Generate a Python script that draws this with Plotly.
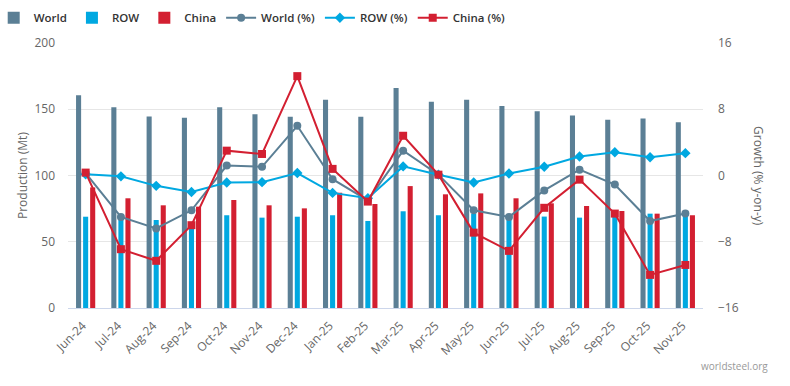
import plotly.graph_objects as go

months = ["Jun-24", "Jul-24", "Aug-24", "Sep-24", "Oct-24", "Nov-24", "Dec-24",
          "Jan-25", "Feb-25", "Mar-25", "Apr-25", "May-25", "Jun-25", "Jul-25",
          "Aug-25", "Sep-25", "Oct-25", "Nov-25"]

world_mt = [160.5, 151.5, 144.5, 143.5, 151.5, 146.2, 144.4, 157.2, 144.4, 166.0,
            155.7, 157.2, 152.5, 148.4, 145.2, 142.1, 143.0, 140.1]
row_mt = [68.9, 68.5, 66.4, 61.0, 70.0, 68.2, 68.9, 70.0, 65.7, 73.0,
          70.0, 71.0, 68.5, 69.0, 68.2, 70.0, 71.2, 70.2]
china_mt = [91.0, 82.8, 77.5, 76.5, 81.5, 77.5, 75.2, 87.0, 78.5, 92.0,
            85.8, 86.5, 82.8, 79.0, 77.0, 73.2, 71.2, 70.0]

world_pct = [0.3, -5.0, -6.4, -4.2, 1.2, 1.05, 6.0, -0.45, -3.0, 3.0,
             0.1, -4.2, -5.0, -1.8, 0.7, -1.1, -5.5, -4.6]
row_pct = [0.15, -0.1, -1.25, -2.0, -0.85, -0.8, 0.3, -2.1, -2.75, 1.1,
           0.1, -0.85, 0.25, 1.05, 2.3, 2.8, 2.2, 2.7]
china_pct = [0.35, -8.9, -10.3, -6.0, 3.0, 2.6, 12.0, 0.8, -3.15, 4.8,
             0.1, -6.9, -9.1, -3.9, -0.5, -4.6, -12.0, -10.8]

left_ticks = [0, 50, 100, 150, 200]
right_ticks = [-16, -8, 0, 8, 16]

C_WORLD = "#5b7f95"
C_ROW = "#00a8e1"
C_CHINA = "#d31f31"
FONT = "Open Sans"

fig = go.Figure()
fig.add_trace(go.Bar(x=months, y=world_mt, name="World", marker_color=C_WORLD,
                     marker_line_width=0))
fig.add_trace(go.Bar(x=months, y=row_mt, name="ROW", marker_color=C_ROW,
                     marker_line_width=0))
fig.add_trace(go.Bar(x=months, y=china_mt, name="China", marker_color=C_CHINA,
                     marker_line_width=0))
fig.add_trace(go.Scatter(x=months, y=world_pct, name="World (%)", yaxis="y2",
                         mode="lines+markers", line=dict(color=C_WORLD, width=2),
                         marker=dict(symbol="circle", size=8, color=C_WORLD)))
fig.add_trace(go.Scatter(x=months, y=row_pct, name="ROW (%)", yaxis="y2",
                         mode="lines+markers", line=dict(color=C_ROW, width=2),
                         marker=dict(symbol="diamond", size=8, color=C_ROW)))
fig.add_trace(go.Scatter(x=months, y=china_pct, name="China (%)", yaxis="y2",
                         mode="lines+markers", line=dict(color=C_CHINA, width=2),
                         marker=dict(symbol="square", size=8, color=C_CHINA)))

fig.update_layout(
    width=790, height=386,
    margin=dict(l=68, r=87, t=43, b=78, autoexpand=False),
    paper_bgcolor="white", plot_bgcolor="white",
    font=dict(family=FONT, size=12, color="#666666"),
    barmode="group", bargap=0.4, bargroupgap=0.28,
    showlegend=True,
    legend=dict(orientation="h", xref="paper", yref="paper",
                x=-0.117, xanchor="left", y=1.15, yanchor="top",
                font=dict(family=FONT, size=11.5, color="#333333", weight=600),
                itemwidth=30, tracegroupgap=0, bgcolor="rgba(0,0,0,0)"),
    xaxis=dict(type="category", range=[-0.5, 17.5], tickangle=-45, showgrid=False,
               automargin=False, showline=True, linecolor="#ccd6eb", linewidth=1,
               ticks="", tickfont=dict(size=12, color="#666666"),
               ticklabelstandoff=5, ticklabelshift=-3),
    yaxis=dict(range=[0, 200], tickvals=left_ticks, showgrid=True, automargin=False,
               gridcolor="#e6e6e6", gridwidth=1, zeroline=False,
               showline=False, tickfont=dict(size=12, color="#666666"),
               ticklabelstandoff=12),
    yaxis2=dict(range=[-16, 16], tickvals=right_ticks, overlaying="y", side="right",
                showgrid=False, zeroline=False, showline=False, automargin=False,
                tickfont=dict(size=12, color="#666666"), ticklabelstandoff=14),
    annotations=[
        dict(text="Production (Mt)", textangle=-90, xref="paper", yref="paper",
             x=0.0, y=0.5, xshift=-56, showarrow=False,
             font=dict(family=FONT, size=12, color="#666666")),
        dict(text="Growth (% y-on-y)", textangle=90, xref="paper", yref="paper",
             x=1.0, y=0.5, xshift=66, showarrow=False,
             font=dict(family=FONT, size=12, color="#666666")),
        dict(text="worldsteel.org", xref="paper", yref="paper", x=1.0, y=0.0,
             xanchor="right", yanchor="middle", xshift=67, yshift=-58,
             showarrow=False, font=dict(family=FONT, size=10, color="#999999")),
    ],
)

fig.write_html("out.html", config={"displayModeBar": False},
               post_script="document.body.style.margin='0';")
